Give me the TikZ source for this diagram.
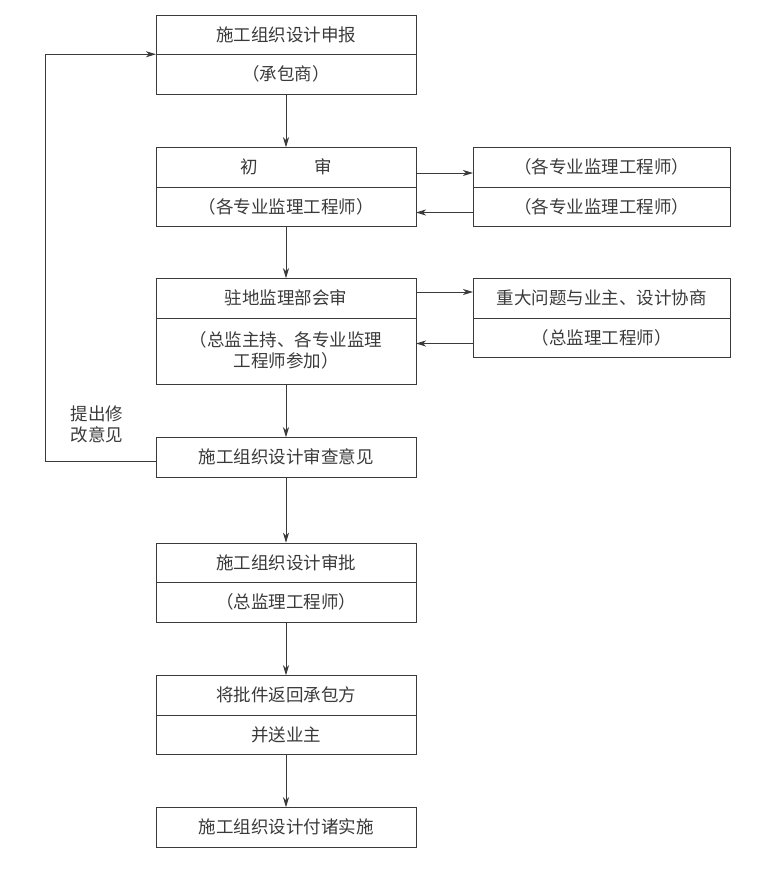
\documentclass[tikz,border=0pt]{standalone}
\usepackage{fontspec}
\setmainfont{Noto Sans CJK SC}
\usepackage{tikz}
\usetikzlibrary{positioning, arrows.meta}

\definecolor{inkgray}{HTML}{3A3A3A}

\begin{document}
\begin{tikzpicture}[
                x=1pt, y=1pt,
                every node/.style={font=\fontsize{17.5}{21}\selectfont, text=inkgray}, % text of all nodes
                leftbox/.style={draw=inkgray, minimum width=260pt, minimum height=39.5pt, inner sep=0pt, outer sep=0pt, align=center},
                rightbox/.style={draw=inkgray, minimum width=257pt, minimum height=39.5pt, inner sep=0pt, outer sep=0pt, align=center},
                flow/.style={draw=inkgray, line width=0.9pt, -{Stealth[length=10pt, width=6pt, inset=3pt]}}
                ]
                \useasboundingbox (0,0) rectangle (760,-871);
                % main column
                \node[leftbox] (sbtop) at (286,-34.5) {施工组织设计申报};
                \node[leftbox, below=0pt of sbtop] (sbbot) {（承包商）};
                \node[leftbox] (cstop) at (286,-167) {初\hspace{3.2em}审};
                \node[leftbox, below=0pt of cstop] (csbot) {（各专业监理工程师）};
                \node[leftbox] (hstop) at (286,-298) {驻地监理部会审};
                \node[leftbox, below=0pt of hstop, minimum height=66pt] (hsbot) {（总监主持、各专业监理\\工程师参加）};
                \node[leftbox] (yj) at (286,-457) {施工组织设计审查意见};
                \node[leftbox] (sptop) at (286,-562.5) {施工组织设计审批};
                \node[leftbox, below=0pt of sptop] (spbot) {（总监理工程师）};
                \node[leftbox] (fhtop) at (286,-695) {将批件返回承包方};
                \node[leftbox, below=0pt of fhtop] (fhbot) {并送业主};
                \node[leftbox] (ss) at (286,-827) {施工组织设计付诸实施};
                % side boxes
                \node[rightbox, right=57pt of cstop] (zytop) {（各专业监理工程师）};
                \node[rightbox, below=0pt of zytop] (zybot) {（各专业监理工程师）};
                \node[rightbox, right=57pt of hstop] (xstop) {重大问题与业主、设计协商};
                \node[rightbox, below=0pt of xstop] (xsbot) {（总监理工程师）};
                % feedback label
                \node[align=left, inner sep=0pt] (xg) at (97,-424) {提出修\\改意见};

                % connectors
                \draw[flow] (sbbot) -- (cstop);
                \draw[flow] (csbot) -- (hstop);
                \draw[flow] (hsbot) -- (yj);
                \draw[flow] (yj) -- (sptop);
                \draw[flow] (spbot) -- (fhtop);
                \draw[flow] (fhbot) -- (ss);
                \draw[flow] ([yshift=-6pt]cstop.east) -- ([yshift=-6pt]zytop.west);
                \draw[flow] ([yshift=-6pt]zybot.west) -- ([yshift=-6pt]csbot.east);
                \draw[flow] ([yshift=6pt]hstop.east) -- ([yshift=6pt]xstop.west);
                \draw[flow] ([yshift=-6pt]xsbot.west) -- ([yshift=-6pt]xsbot.west -| hsbot.east);
                \draw[flow] ([yshift=-4pt]yj.west) -| ([xshift=-111pt]sbtop.south west) -- (sbtop.south west);
            \end{tikzpicture}
\end{document}
